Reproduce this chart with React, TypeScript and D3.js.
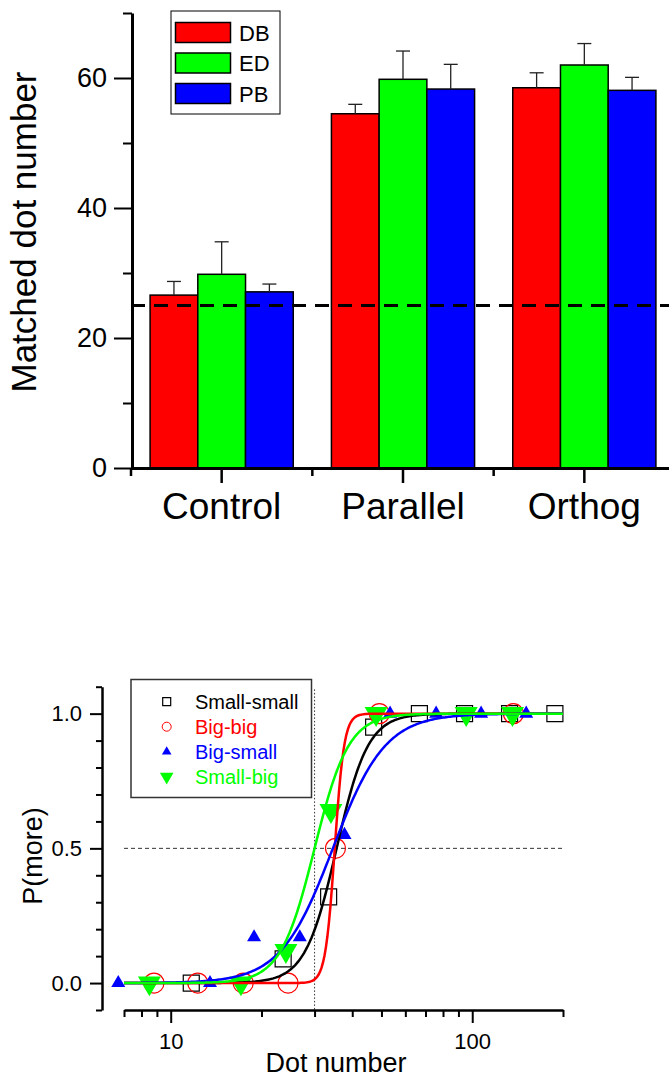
import React, { useRef, useEffect } from 'react';
import * as d3 from 'd3';

// ---- top panel: matched dot number ----
const categories = ['Control', 'Parallel', 'Orthog'];
const groups = ['DB', 'ED', 'PB'];
const groupColors = ['#ff0000', '#00ff00', '#0000ff'];
const dbMeans = [26.6, 54.5, 58.5];
const dbErrors = [2.1, 1.45, 2.3];
const edMeans = [29.8, 59.8, 62.0];
const edErrors = [5.0, 4.35, 3.3];
const pbMeans = [27.1, 58.3, 58.1];
const pbErrors = [1.2, 3.8, 2.0];
const chanceLevel = 25;
const barTicks = [0, 20, 40, 60];
const barMinorTicks = [10, 30, 50, 70];

// ---- bottom panel: P(more) vs dot number ----
const conditions = ['Small-small', 'Big-big', 'Big-small', 'Small-big'];
const conditionColors = ['#000000', '#ff0000', '#0000ff', '#00ff00'];
const smallSmallX = [11.7, 23.6, 33.4, 47.1, 66.8, 94.3, 133, 188];
const smallSmallP = [0, 0.09, 0.32, 0.95, 1, 1, 1, 1];
const bigBigX = [8.8, 12.3, 17.4, 24.5, 35.2, 49.2, 137];
const bigBigP = [0, 0, 0, 0, 0.5, 1, 1];
const bigSmallX = [6.7, 13.5, 18.9, 26.8, 37.7, 53.4, 75.9, 107, 151];
const bigSmallP = [0, 0, 0.17, 0.17, 0.55, 1, 1, 1, 1];
const smallBigX = [8.5, 17.1, 24.1, 34.0, 48.0, 95.5, 136];
const smallBigP = [0, 0, 0.12, 0.64, 1, 1, 1];
// fitted logistic (on log dot number): threshold and spread
const fitThreshold = [35.5, 35.0, 34.5, 30.0];
const fitSpread = [0.12, 0.036, 0.2, 0.13];
const psyXTicks = [10, 100];
const psyXMinor = [7, 8, 9, 20, 30, 40, 50, 60, 70, 80, 90, 200];
const psyYTicks = [0, 0.5, 1];
const psyYMinor = [-0.1, 0.1, 0.2, 0.3, 0.4, 0.6, 0.7, 0.8, 0.9, 1.1];
const refNumber = 30;
const refP = 0.5;

const font = "'Liberation Sans', Arial, Helvetica, sans-serif";

function drawBars(g) {
	const x = d3.scaleBand().domain(categories).range([131, 675]);
	const xSub = d3.scaleBand().domain(groups).range([0, x.bandwidth()]).paddingOuter(0.4);
	const y = d3.scaleLinear().domain([0, 70]).range([468, 13]);
	const means = [dbMeans, edMeans, pbMeans];
	const errors = [dbErrors, edErrors, pbErrors];

	groups.forEach((grp, j) => {
		categories.forEach((cat, i) => {
			const x0 = x(cat) + xSub(grp);
			const w = xSub.bandwidth();
			g.append('rect')
				.attr('x', x0)
				.attr('y', y(means[j][i]))
				.attr('width', w)
				.attr('height', y(0) - y(means[j][i]))
				.attr('fill', groupColors[j])
				.attr('stroke', '#000')
				.attr('stroke-width', 1.5);
		});
	});

	// error bars (upper only)
	groups.forEach((grp, j) => {
		categories.forEach((cat, i) => {
			const cx = x(cat) + xSub(grp) + xSub.bandwidth() / 2;
			const top = y(means[j][i] + errors[j][i]);
			g.append('line')
				.attr('x1', cx).attr('x2', cx)
				.attr('y1', y(means[j][i])).attr('y2', top)
				.attr('stroke', '#222').attr('stroke-width', 1.3);
			g.append('line')
				.attr('x1', cx - 7).attr('x2', cx + 7)
				.attr('y1', top).attr('y2', top)
				.attr('stroke', '#222').attr('stroke-width', 1.3);
		});
	});

	g.append('line')
		.attr('x1', 131).attr('x2', 675)
		.attr('y1', y(chanceLevel)).attr('y2', y(chanceLevel))
		.attr('stroke', '#000').attr('stroke-width', 3)
		.attr('stroke-dasharray', '14 9');

	// x axis
	const xAxis = g.append('g').attr('transform', 'translate(0,' + y(0) + ')')
		.call(d3.axisBottom(x).tickSize(15).tickPadding(10).tickSizeOuter(0));
	xAxis.select('.domain').attr('stroke-width', 3);
	xAxis.selectAll('.tick line').attr('stroke-width', 2.5);
	xAxis.selectAll('text').attr('font-size', 37).attr('font-family', font).attr('fill', '#000');
	categories.forEach((cat) => {
		g.append('line')
			.attr('x1', x(cat)).attr('x2', x(cat))
			.attr('y1', y(0)).attr('y2', y(0) + 8)
			.attr('stroke', '#000').attr('stroke-width', 2.5);
	});

	// y axis
	const yMinor = g.append('g').attr('transform', 'translate(132,0)')
		.call(d3.axisLeft(y).tickValues(barMinorTicks).tickSize(9).tickFormat(() => '').tickSizeOuter(0));
	yMinor.select('.domain').remove();
	yMinor.selectAll('.tick line').attr('stroke-width', 2);
	const yAxis = g.append('g').attr('transform', 'translate(132,0)')
		.call(d3.axisLeft(y).tickValues(barTicks).tickSize(18).tickPadding(7).tickSizeOuter(0));
	yAxis.select('.domain').attr('stroke-width', 3);
	yAxis.selectAll('.tick line').attr('stroke-width', 2);
	yAxis.selectAll('text').attr('font-size', 27).attr('font-family', font).attr('fill', '#000');

	g.append('text')
		.attr('transform', 'translate(36,' + 232 + ') rotate(-90)')
		.attr('text-anchor', 'middle')
		.attr('font-size', 35)
		.attr('font-family', font)
		.text('Matched dot number');

	// legend
	const lg = g.append('g');
	lg.append('rect').attr('x', 171).attr('y', 11).attr('width', 109).attr('height', 103)
		.attr('fill', '#fff').attr('stroke', '#000').attr('stroke-width', 1);
	groups.forEach((grp, j) => {
		const cy = 32.5 + j * 30.5;
		lg.append('rect').attr('x', 175.5).attr('y', cy - 10).attr('width', 55).attr('height', 20)
			.attr('fill', groupColors[j]).attr('stroke', '#000').attr('stroke-width', 1.5);
		lg.append('text').attr('x', 239).attr('y', cy + 8)
			.attr('font-size', 22).attr('font-family', font).text(grp);
	});
}

function drawPsych(g) {
	const x = d3.scaleLog().domain([7, 200]).range([124, 563]);
	const y = d3.scaleLinear().domain([-0.1, 1.1]).range([1010, 686.7]);
	const xs = [smallSmallX, bigBigX, bigSmallX, smallBigX];
	const ps = [smallSmallP, bigBigP, bigSmallP, smallBigP];

	// reference lines
	g.append('line')
		.attr('x1', x(7)).attr('x2', x(200))
		.attr('y1', y(refP)).attr('y2', y(refP))
		.attr('stroke', '#333').attr('stroke-width', 1).attr('stroke-dasharray', '4 3');
	g.append('line')
		.attr('x1', x(refNumber)).attr('x2', x(refNumber))
		.attr('y1', y(1.09)).attr('y2', y(-0.1))
		.attr('stroke', '#333').attr('stroke-width', 1).attr('stroke-dasharray', '1.5 2');

	// markers
	const sq = d3.symbol().type(d3.symbolSquare).size(256);
	const triUp = d3.symbol().type(d3.symbolTriangle).size(85);
	const triDown = d3.symbol().type(d3.symbolTriangle).size(229);
	xs[0].forEach((v, i) => {
		g.append('path').attr('d', sq()).attr('transform', `translate(${x(v)},${y(ps[0][i])})`)
			.attr('fill', 'none').attr('stroke', '#000').attr('stroke-width', 1.2);
	});
	xs[1].forEach((v, i) => {
		g.append('circle').attr('cx', x(v)).attr('cy', y(ps[1][i])).attr('r', 10)
			.attr('fill', 'none').attr('stroke', '#ff0000').attr('stroke-width', 1.2);
	});
	xs[2].forEach((v, i) => {
		g.append('path').attr('d', triUp()).attr('transform', `translate(${x(v)},${y(ps[2][i])})`)
			.attr('fill', '#0000ff');
	});
	xs[3].forEach((v, i) => {
		g.append('path').attr('d', triDown()).attr('transform', `translate(${x(v)},${y(ps[3][i])}) rotate(180)`)
			.attr('fill', '#00ff00');
	});

	// fitted curves
	const samples = d3.range(0, 301).map((i) => 7 * Math.pow(200 / 7, i / 300));
	const line = d3.line().x((d) => x(d[0])).y((d) => y(d[1]));
	conditions.forEach((c, k) => {
		const pts = samples.map((v) => [v, 1 / (1 + Math.exp(-Math.log(v / fitThreshold[k]) / fitSpread[k]))]);
		g.append('path').attr('d', line(pts)).attr('fill', 'none')
			.attr('stroke', conditionColors[k]).attr('stroke-width', 2.5);
	});

	// axes
	const xMinor = g.append('g').attr('transform', 'translate(0,1010)')
		.call(d3.axisBottom(x).tickValues(psyXMinor).tickSize(7).tickFormat(() => '').tickSizeOuter(0));
	xMinor.select('.domain').remove();
	xMinor.selectAll('.tick line').attr('stroke-width', 2);
	const xAxis = g.append('g').attr('transform', 'translate(0,1010)')
		.call(d3.axisBottom(x).tickValues(psyXTicks).tickSize(13).tickPadding(10).tickFormat(d3.format('d')).tickSizeOuter(0));
	xAxis.select('.domain').attr('stroke-width', 2.5);
	xAxis.selectAll('.tick line').attr('stroke-width', 2);
	xAxis.selectAll('text').attr('font-size', 22).attr('font-family', font).attr('fill', '#000');

	const yMinor = g.append('g').attr('transform', 'translate(102,0)')
		.call(d3.axisLeft(y).tickValues(psyYMinor).tickSize(6).tickFormat(() => '').tickSizeOuter(0));
	yMinor.select('.domain').remove();
	yMinor.selectAll('.tick line').attr('stroke-width', 2);
	const yAxis = g.append('g').attr('transform', 'translate(102,0)')
		.call(d3.axisLeft(y).tickValues(psyYTicks).tickSize(12).tickPadding(8).tickFormat(d3.format('.1f')).tickSizeOuter(0));
	yAxis.select('.domain').attr('stroke-width', 2.5);
	yAxis.selectAll('.tick line').attr('stroke-width', 2);
	yAxis.selectAll('text').attr('font-size', 22).attr('font-family', font).attr('fill', '#000');

	g.append('text').attr('x', 336).attr('y', 1072).attr('text-anchor', 'middle')
		.attr('font-size', 27).attr('font-family', font).text('Dot number');
	g.append('text').attr('transform', 'translate(42,856) rotate(-90)').attr('text-anchor', 'middle')
		.attr('font-size', 27).attr('font-family', font).text('P(more)');

	// legend
	const lg = g.append('g');
	lg.append('rect').attr('x', 131).attr('y', 679.5).attr('width', 180.5).attr('height', 118)
		.attr('fill', '#fff').attr('stroke', '#333').attr('stroke-width', 1.5);
	const legendSymbols = [
		d3.symbol().type(d3.symbolSquare).size(64),
		null,
		d3.symbol().type(d3.symbolTriangle).size(40),
		d3.symbol().type(d3.symbolTriangle).size(80),
	];
	conditions.forEach((c, k) => {
		const cy = 701.7 + k * 25;
		if (k === 1) {
			lg.append('circle').attr('cx', 166.7).attr('cy', cy).attr('r', 4.5)
				.attr('fill', 'none').attr('stroke', '#ff0000').attr('stroke-width', 1);
		} else {
			lg.append('path').attr('d', legendSymbols[k]())
				.attr('transform', `translate(166.7,${cy})${k === 3 ? ' rotate(180)' : ''}`)
				.attr('fill', k === 0 ? 'none' : conditionColors[k])
				.attr('stroke', k === 0 ? '#000' : 'none').attr('stroke-width', 1.2);
		}
		lg.append('text').attr('x', 195).attr('y', cy + 7)
			.attr('font-size', 20).attr('font-family', font).attr('fill', conditionColors[k]).text(c);
	});
}

export default function App() {
	const ref = useRef(null);
	useEffect(() => {
		if (!ref.current) return;
		const svg = d3.select(ref.current);
		svg.selectAll('*').remove();
		drawBars(svg.append('g'));
		drawPsych(svg.append('g'));
	}, []);

	return (
		<svg
			ref={ref}
			width={669}
			height={1078}
			style={{ position: 'absolute', left: 0, top: 0, background: '#fff' }}
		/>
	);
}
